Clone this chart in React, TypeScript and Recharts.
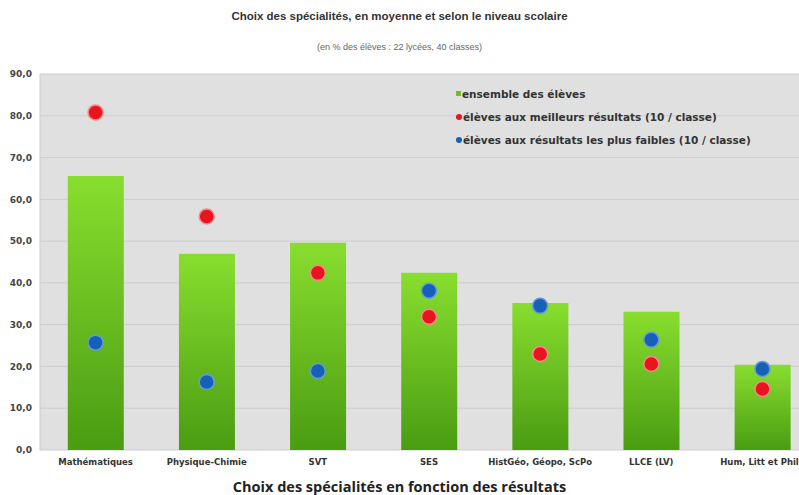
import React from 'react';
import { ComposedChart, Bar, Line, XAxis, YAxis, CartesianGrid } from 'recharts';

const categories = ['Mathématiques', 'Physique-Chimie', 'SVT', 'SES', 'HistGéo, Géopo, ScPo', 'LLCE (LV)', 'Hum, Litt et Philo'];
const ensemble = [65.6, 47.0, 49.6, 42.4, 35.2, 33.1, 20.4];
const meilleurs = [80.8, 55.9, 42.4, 31.9, 23.0, 20.6, 14.6];
const faibles = [25.7, 16.3, 18.9, 38.1, 34.5, 26.4, 19.4];
const yTicks = [0, 10, 20, 30, 40, 50, 60, 70, 80, 90];

const seriesNames = {
  ensemble: 'ensemble des élèves',
  meilleurs: 'élèves aux meilleurs résultats (10 / classe)',
  faibles: 'élèves aux résultats les plus faibles (10 / classe)',
};

const data = categories.map((c, i) => ({
  name: c,
  ensemble: ensemble[i],
  meilleurs: meilleurs[i],
  faibles: faibles[i],
}));

const FONT = '"Liberation Sans", Arial, sans-serif';
const DFONT = '"DejaVu Sans", Verdana, sans-serif';

const legendItems = [
  { label: seriesNames.ensemble, color: '#6cc31e', round: false },
  { label: seriesNames.meilleurs, color: '#e8141e', round: true },
  { label: seriesNames.faibles, color: '#1560b8', round: true },
];

export default function App() {
  return (
    <div style={{ position: 'fixed', left: 0, top: 0, width: 799, height: 495, overflow: 'hidden', background: '#fff', fontFamily: FONT }}>
      <div style={{ position: 'absolute', left: 0, top: 10, width: 799, textAlign: 'center', fontSize: 11.5, fontWeight: 700, color: '#333' }}>
        Choix des spécialités, en moyenne et selon le niveau scolaire
      </div>
      <div style={{ position: 'absolute', left: 0, top: 42, width: 799, textAlign: 'center', fontSize: 9, color: '#666' }}>
        (en % des élèves : 22 lycées, 40 classes)
      </div>
      <ComposedChart
        width={830}
        height={495}
        data={data}
        margin={{ top: 74, right: 12, bottom: 15, left: 0 }}
        barCategoryGap="25%"
      >
        <defs>
          <linearGradient id="barGrad" x1="0" y1="0" x2="0" y2="1">
            <stop offset="0%" stopColor="#88de2e" />
            <stop offset="100%" stopColor="#4a9c12" />
          </linearGradient>
        </defs>
        <CartesianGrid fill="#e0e0e0" stroke="#cdcdcd" vertical={false} />
        <XAxis
          dataKey="name"
          height={30}
          axisLine={false}
          tickLine={false}
          interval={0}
          tick={{ fontSize: 8.5, fontWeight: 700, fill: '#333', fontFamily: DFONT }}
          tickMargin={3}
        />
        <YAxis
          width={40}
          domain={[0, 90]}
          ticks={yTicks}
          axisLine={{ stroke: '#cccccc' }}
          tickLine={false}
          tickFormatter={(v: number) => v.toFixed(1).replace('.', ',')}
          tick={{ fontSize: 9, fontWeight: 700, fill: '#444', fontFamily: DFONT }}
        />
        <Bar dataKey="ensemble" name={seriesNames.ensemble} fill="url(#barGrad)" isAnimationActive={false} />
        <Line
          dataKey="meilleurs"
          name={seriesNames.meilleurs}
          stroke="none"
          strokeWidth={0}
          dot={{ r: 7.5, fill: '#e8141e', stroke: '#f78a8a', strokeWidth: 1.5 }}
          activeDot={false}
          isAnimationActive={false}
        />
        <Line
          dataKey="faibles"
          name={seriesNames.faibles}
          stroke="none"
          strokeWidth={0}
          dot={{ r: 7.5, fill: '#1560b8', stroke: '#6a9ad6', strokeWidth: 1.5 }}
          activeDot={false}
          isAnimationActive={false}
        />
      </ComposedChart>
      <div style={{ position: 'absolute', left: 456, top: 82, fontSize: 10.5, fontWeight: 700, color: '#333', fontFamily: DFONT }}>
        {legendItems.map((it) => (
          <div key={it.label} style={{ display: 'flex', alignItems: 'center', height: 23 }}>
            <span
              style={{
                display: 'inline-block',
                width: it.round ? 6 : 5,
                height: it.round ? 6 : 5,
                borderRadius: it.round ? 3 : 0,
                background: it.color,
                marginRight: 1,
              }}
            />
            <span>{it.label}</span>
          </div>
        ))}
      </div>
      <div style={{ position: 'absolute', left: 0, top: 477, width: 799, textAlign: 'center', fontSize: 14.5, fontWeight: 700, color: '#222', fontFamily: '"Open Sans", sans-serif' }}>
        Choix des spécialités en fonction des résultats
      </div>
    </div>
  );
}
